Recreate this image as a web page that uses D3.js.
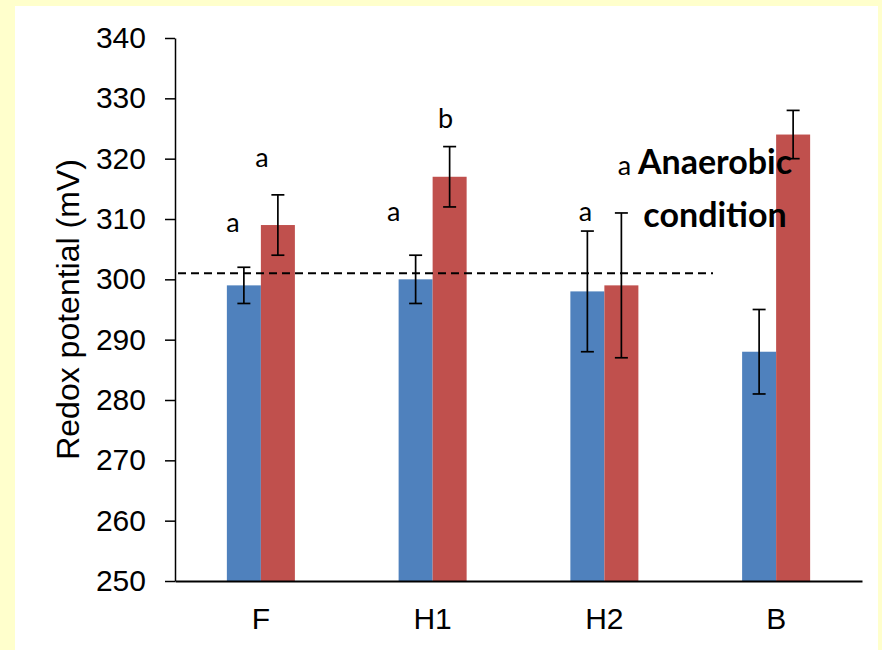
<!DOCTYPE html>
<html>
<head>
<meta charset="utf-8">
<script src="https://cdn.jsdelivr.net/npm/d3@7/dist/d3.min.js"></script>
<style>
  html, body { margin: 0; padding: 0; background: #FFFFCC; }
  svg { display: block; }
</style>
</head>
<body>
<svg id="chart" width="882" height="650"></svg>
<script>
// Redox potential by site, two conditions per site
const categories = ["F", "H1", "H2", "B"];
const seriesA = [299, 300, 298, 288];      // blue bars (mV)
const seriesB = [309, 317, 299, 324];      // red bars (mV)
const errA = [3, 4, 10, 7];
const errB = [5, 5, 12, 4];
const lettersA = ["a", "a", "a", ""];
const lettersB = ["a", "b", "a", ""];
const yTicks = [250, 260, 270, 280, 290, 300, 310, 320, 330, 340];
const threshold = 301;                     // anaerobic threshold line (mV)
const colors = ["#4F81BD", "#C0504D"];

const svg = d3.select("#chart");

// white chart area on the pale yellow page
svg.append("rect").attr("x", 15).attr("y", 6).attr("width", 863).attr("height", 644).attr("fill", "#FFFFFF");

const y = d3.scaleLinear().domain([250, 340]).range([581, 38]);
const x = d3.scaleBand().domain(categories).range([175, 862]).padding(0);
const groupW = x.bandwidth() * 0.396;
const xs = d3.scaleBand().domain([0, 1]).range([0, groupW]).padding(0);
const barCenter = (i, s) => x(categories[i]) + (x.bandwidth() - groupW) / 2 + xs(s) + xs.bandwidth() / 2;

const series = [seriesA, seriesB];
const errs = [errA, errB];
const letters = [lettersA, lettersB];

// bars
series.forEach((vals, s) => {
  svg.append("g").selectAll("rect").data(vals).join("rect")
    .attr("x", (d, i) => barCenter(i, s) - xs.bandwidth() / 2)
    .attr("y", d => y(d))
    .attr("width", xs.bandwidth())
    .attr("height", d => y(250) - y(d))
    .attr("fill", colors[s]);
});

// threshold dashed line
svg.append("line")
  .attr("x1", 178).attr("x2", 713)
  .attr("y1", y(threshold)).attr("y2", y(threshold))
  .attr("stroke", "#000").attr("stroke-width", 2)
  .attr("stroke-dasharray", "8,5");

// error bars
series.forEach((vals, s) => {
  const g = svg.append("g").attr("stroke", "#000").attr("stroke-width", 1.7);
  vals.forEach((v, i) => {
    const cx = barCenter(i, s);
    const e = errs[s][i];
    g.append("line").attr("x1", cx).attr("x2", cx).attr("y1", y(v + e)).attr("y2", y(v - e));
    g.append("line").attr("x1", cx - 6.5).attr("x2", cx + 6.5).attr("y1", y(v + e)).attr("y2", y(v + e));
    g.append("line").attr("x1", cx - 6.5).attr("x2", cx + 6.5).attr("y1", y(v - e)).attr("y2", y(v - e));
  });
});

// y axis
const yAxis = d3.axisLeft(y).tickValues(yTicks).tickSize(10).tickPadding(19).tickSizeOuter(0);
const yg = svg.append("g").attr("transform", "translate(175,0)").call(yAxis);
yg.select(".domain").attr("stroke", "#000").attr("stroke-width", 1.5);
yg.selectAll(".tick line").attr("stroke", "#000").attr("stroke-width", 1.5);
yg.selectAll(".tick text")
  .attr("font-family", "'Liberation Sans', Arial, sans-serif")
  .attr("font-size", 30).attr("fill", "#000");

// x axis
const xAxis = d3.axisBottom(x).tickSize(0).tickPadding(0).tickSizeOuter(0);
const xg = svg.append("g").attr("transform", "translate(0,581)").call(xAxis);
xg.select(".domain").attr("stroke", "#000").attr("stroke-width", 2);
xg.selectAll(".tick text")
  .attr("dy", null).attr("y", 48)
  .attr("font-family", "'Liberation Sans', Arial, sans-serif")
  .attr("font-size", 30).attr("fill", "#000");

// y axis title
svg.append("text")
  .attr("transform", `translate(79,${(y(250) + y(340)) / 2}) rotate(-90)`)
  .attr("text-anchor", "middle")
  .attr("font-family", "'Liberation Sans', Arial, sans-serif")
  .attr("font-size", 32).attr("fill", "#000")
  .text("Redox potential (mV)");

// significance letters, placed relative to each error-bar top
const letterDx = [[-11, -22, -2, 0], [-16, -4, 3, 0]];
const letterDy = [[-35, -34, -10, 0], [-28, -19, -38, 0]];
series.forEach((vals, s) => {
  vals.forEach((v, i) => {
    if (!letters[s][i]) return;
    svg.append("text")
      .attr("x", barCenter(i, s) + letterDx[s][i])
      .attr("y", y(v + errs[s][i]) + letterDy[s][i])
      .attr("text-anchor", "middle")
      .attr("font-family", "Lato, 'Open Sans', sans-serif")
      .attr("font-size", 27).attr("fill", "#000")
      .text(letters[s][i]);
  });
});

// annotation
const ann = svg.append("text")
  .attr("text-anchor", "middle")
  .attr("font-family", "Lato, 'Open Sans', sans-serif")
  .attr("font-weight", "bold")
  .attr("font-size", 34).attr("fill", "#000");
ann.append("tspan").attr("x", 715).attr("y", 174).text("Anaerobic");
ann.append("tspan").attr("x", 715).attr("y", 227).text("condition");
</script>
</body>
</html>
